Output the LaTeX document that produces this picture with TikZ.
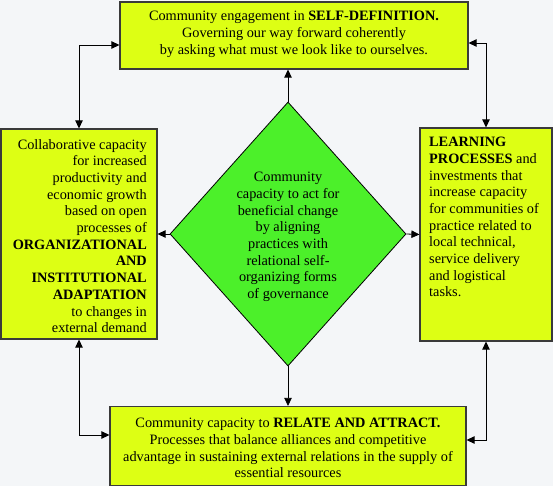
\documentclass[tikz,border=0pt]{standalone}
\usepackage{fontspec}
\setmainfont{Liberation Serif}
\usetikzlibrary{shapes.geometric,arrows.meta,calc}
\definecolor{yfill}{HTML}{DDFF14}
\definecolor{gfill}{HTML}{4CF02A}
\definecolor{bgcol}{HTML}{F4F6F8}
\definecolor{boxline}{HTML}{3A3A3A}
\begin{document}
\begin{tikzpicture}[x=1pt,y=-1pt]
\tikzset{
  box/.style={draw=boxline, line width=1.2pt, fill=yfill, inner sep=0pt},
  txt/.style={font=\fontsize{14.3}{16.7}\selectfont, inner sep=0pt},
  dia/.style={diamond, draw=black, line width=0.8pt, fill=gfill, inner sep=0pt, aspect=0.894,
              minimum width=236pt, minimum height=264pt},
  arr/.style={-{Triangle[length=8pt,width=7.5pt]}, line width=0.8pt},
  darr/.style={{Triangle[length=8pt,width=7.5pt]}-{Triangle[length=8pt,width=7.5pt]}, line width=0.8pt}
}
\fill[bgcol] (0,0) rectangle (553,486);
\useasboundingbox (0,0) rectangle (553,486);

% boxes
\node[box, minimum width=348pt, minimum height=67pt] (T) at (294,35.5) {};
\node[box, minimum width=156pt, minimum height=210pt] (L) at (79,234) {};
\node[box, minimum width=132pt, minimum height=213pt] (R) at (486,234.5) {};
\node[box, minimum width=356pt, minimum height=79pt] (B) at (288,446) {};
\node[dia] (D) at (288,234) {};

% texts
\node[txt, align=center] (Dt) at (288,237) {Community\\ capacity to act for\\ beneficial change\\ by aligning\\ practices with\\ relational self-\\ organizing forms\\ of governance};
\node[txt, align=center] (Tt) at (294,34.5) {Community engagement in \textbf{SELF-DEFINITION.}\\ Governing our way forward coherently\\ by asking what must we look like to ourselves.};
\node[txt, align=right, anchor=east] (Lt) at (147,236) {Collaborative capacity\\ for increased\\ productivity and\\ economic growth\\ based on open\\ processes of\\ \textbf{ORGANIZATIONAL}\\ \textbf{AND}\\ \textbf{INSTITUTIONAL}\\ \textbf{ADAPTATION}\\ to changes in\\ external demand};
\node[txt, align=left, anchor=north west] (Rt) at (429,137) {\textbf{LEARNING}\\ \textbf{PROCESSES} and\\ investments that\\ increase capacity\\ for communities of\\ practice related to\\ local technical,\\ service delivery\\ and logistical\\ tasks.};
\node[txt, align=center] (Bt) at (288,448) {Community capacity to \textbf{RELATE AND ATTRACT.}\\ Processes that balance alliances and competitive\\ advantage in sustaining external relations in the supply of\\ essential resources};

% connectors
\draw[arr] (D.north) -- (D.north |- T.south);
\draw[arr] (D.south) -- (D.south |- B.north);
\draw[arr] (D.west) -- (L.east);
\draw[arr] (D.east) -- (R.west);
\draw[darr] (L.north) |- ([yshift=-9.5pt]T.west);
\draw[darr] (R.north) |- ([yshift=-7.5pt]T.east);
\draw[darr] (L.south) |- ([yshift=11pt]B.west);
\draw[darr] (R.south) |- ([yshift=6pt]B.east);
\end{tikzpicture}
\end{document}
